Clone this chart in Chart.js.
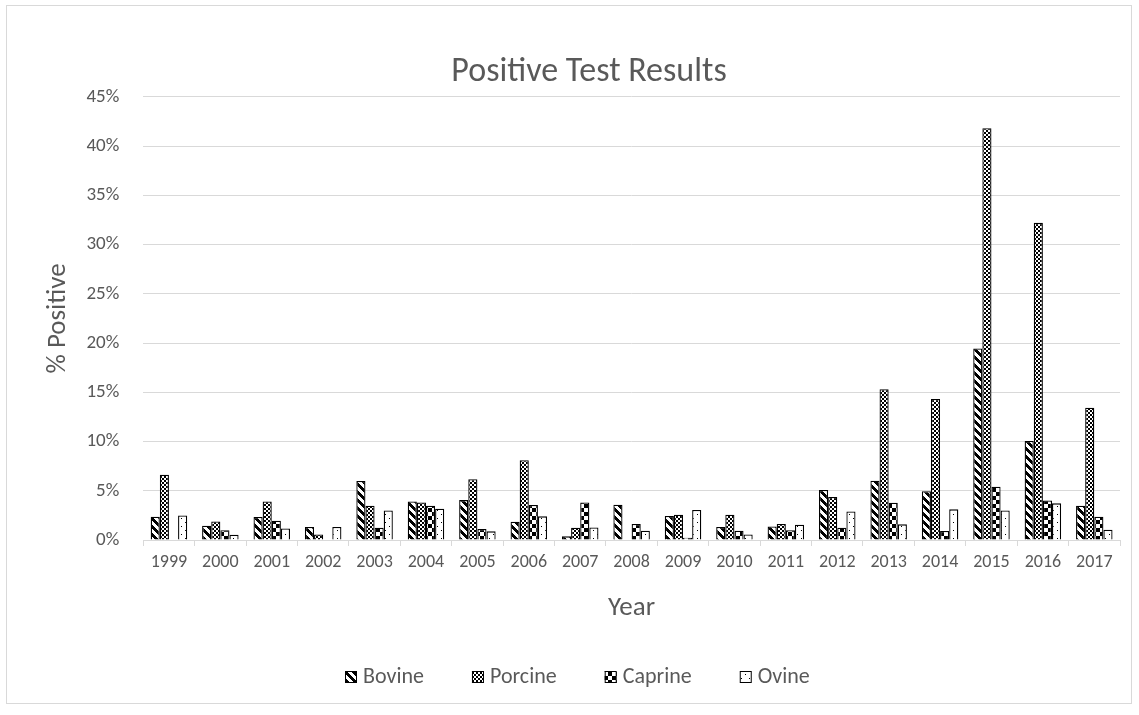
<!DOCTYPE html>
<html>
<head>
<meta charset="utf-8">
<script src="https://cdn.jsdelivr.net/npm/chart.js@4.4.1/dist/chart.umd.min.js"></script>
<style>
  html, body { margin: 0; padding: 0; background: #ffffff; }
  #wrap { position: relative; width: 1139px; height: 715px; }
</style>
</head>
<body>
<div id="wrap"><canvas id="chart" width="1139" height="715"></canvas></div>
<script>
// Share of samples testing positive, by year and species (percent)
const years = ['1999','2000','2001','2002','2003','2004','2005','2006','2007','2008',
               '2009','2010','2011','2012','2013','2014','2015','2016','2017'];
const bovine  = [2.36, 1.45, 2.33, 1.32, 6.0, 3.92, 4.05, 1.86, 0.37, 3.58, 2.43, 1.32, 1.38, 5.07, 6.01, 4.96, 19.45, 10.06, 3.48];
const porcine = [6.62, 1.89, 3.92, 0.57, 3.48, 3.82, 6.18, 8.1, 1.25, 0, 2.57, 2.57, 1.62, 4.36, 15.3, 14.32, 41.8, 32.2, 13.44];
const caprine = [0, 1.0, 1.96, 0, 1.25, 3.48, 1.11, 3.55, 3.82, 1.62, 0.24, 0.95, 1.0, 1.25, 3.78, 0.91, 5.4, 4.02, 2.36];
const ovine   = [2.5, 0.54, 1.18, 1.32, 3.0, 3.17, 0.88, 2.4, 1.28, 0.95, 3.04, 0.57, 1.55, 2.9, 1.59, 3.11, 3.0, 3.72, 1.05];
const yTicks  = [0, 5, 10, 15, 20, 25, 30, 35, 40, 45];

const FONT = 'Carlito, Lato, "Open Sans", sans-serif';
const TEXT = '#595959';
const GRID = '#d9d9d9';

// 8x8 monochrome fill tiles, built pixel by pixel
function makePattern(isBlack) {
  const c = document.createElement('canvas');
  c.width = 8; c.height = 8;
  const g = c.getContext('2d');
  g.fillStyle = '#ffffff';
  g.fillRect(0, 0, 8, 8);
  g.fillStyle = '#000000';
  for (let r = 0; r < 8; r++)
    for (let col = 0; col < 8; col++)
      if (isBlack(r, col)) g.fillRect(col, r, 1, 1);
  return g.createPattern(c, 'repeat');
}
// wide downward diagonal
const patBovine  = makePattern((r, c) => ((c - r + 16) % 8) < 4);
// small checker board
const patPorcine = makePattern((r, c) => ((Math.floor(r / 2) + Math.floor(c / 2)) % 2) === 0);
// large checker board
const patCaprine = makePattern((r, c) => ((Math.floor(r / 4) + Math.floor(c / 4)) % 2) === 0);
// sparse dots
const patOvine   = makePattern((r, c) => (r === 2 && c === 1) || (r === 6 && c === 5));

// light outline round the whole chart
const frame = {
  id: 'frame',
  beforeDraw(chart) {
    const ctx = chart.ctx;
    ctx.save();
    ctx.fillStyle = '#ffffff';
    ctx.fillRect(0, 0, chart.width, chart.height);
    ctx.strokeStyle = GRID;
    ctx.lineWidth = 1;
    ctx.strokeRect(6.5, 5.5, 1125, 698);
    ctx.restore();
  }
};

// legend row: small swatch tight against its label
const LEGEND_FONT_SIZE = 22;
const swatchLegend = {
  id: 'swatchLegend',
  afterDraw(chart) {
    const ctx = chart.ctx;
    const box = 12, gap = 6, spacing = 48, cy = 677, centerX = 577;
    ctx.save();
    ctx.font = LEGEND_FONT_SIZE + 'px ' + FONT;
    const items = chart.data.datasets.map(d => ({
      d, w: box + gap + ctx.measureText(d.label).width
    }));
    const total = items.reduce((s, it) => s + it.w, 0) + spacing * (items.length - 1);
    let x = Math.round(centerX - total / 2);
    items.forEach(it => {
      ctx.fillStyle = it.d.backgroundColor;
      ctx.fillRect(x, cy - box / 2, box, box);
      ctx.strokeStyle = '#000000';
      ctx.lineWidth = 1;
      ctx.strokeRect(x + 0.5, cy - box / 2 + 0.5, box - 1, box - 1);
      ctx.fillStyle = TEXT;
      ctx.textBaseline = 'middle';
      ctx.textAlign = 'left';
      ctx.fillText(it.d.label, x + box + gap, cy);
      x += it.w + spacing;
    });
    ctx.restore();
  }
};

function ds(label, data, pattern) {
  return {
    label, data,
    backgroundColor: pattern,
    borderColor: '#000000',
    borderWidth: 1.3,
    categoryPercentage: 0.71,
    barPercentage: 1.0
  };
}

new Chart(document.getElementById('chart'), {
  type: 'bar',
  data: {
    labels: years,
    datasets: [
      ds('Bovine', bovine, patBovine),
      ds('Porcine', porcine, patPorcine),
      ds('Caprine', caprine, patCaprine),
      ds('Ovine', ovine, patOvine)
    ]
  },
  plugins: [frame, swatchLegend],
  options: {
    responsive: false,
    animation: false,
    devicePixelRatio: 1,
    layout: { padding: { left: 58, right: 19, top: 0, bottom: 91 } },
    plugins: {
      title: {
        display: true,
        text: 'Positive Test Results',
        color: TEXT,
        font: { family: FONT, size: 34, weight: 'normal' },
        padding: { top: 52, bottom: 4 }
      },
      legend: { display: false },
      tooltip: { enabled: false }
    },
    scales: {
      x: {
        grid: {
          display: true,
          drawOnChartArea: false,
          drawTicks: true,
          tickLength: 6,
          color: GRID,
          offset: true
        },
        border: { display: true, color: GRID, width: 1 },
        ticks: {
          color: TEXT,
          font: { family: FONT, size: 18 },
          padding: 6,
          maxRotation: 0,
          autoSkip: false
        },
        title: {
          display: true,
          text: 'Year',
          color: TEXT,
          font: { family: FONT, size: 27 },
          padding: { top: 12, bottom: 0 }
        }
      },
      y: {
        min: 0,
        max: 45,
        afterBuildTicks(axis) { axis.ticks = yTicks.map(v => ({ value: v })); },
        grid: { color: GRID, lineWidth: 1, drawTicks: false },
        border: { display: false },
        ticks: {
          color: TEXT,
          font: { family: FONT, size: 19 },
          padding: 24,
          callback: v => v + '%'
        },
        title: {
          display: true,
          text: '% Positive',
          color: TEXT,
          font: { family: FONT, size: 27 },
          padding: { top: -16, bottom: -12 }
        }
      }
    }
  }
});
</script>
</body>
</html>
